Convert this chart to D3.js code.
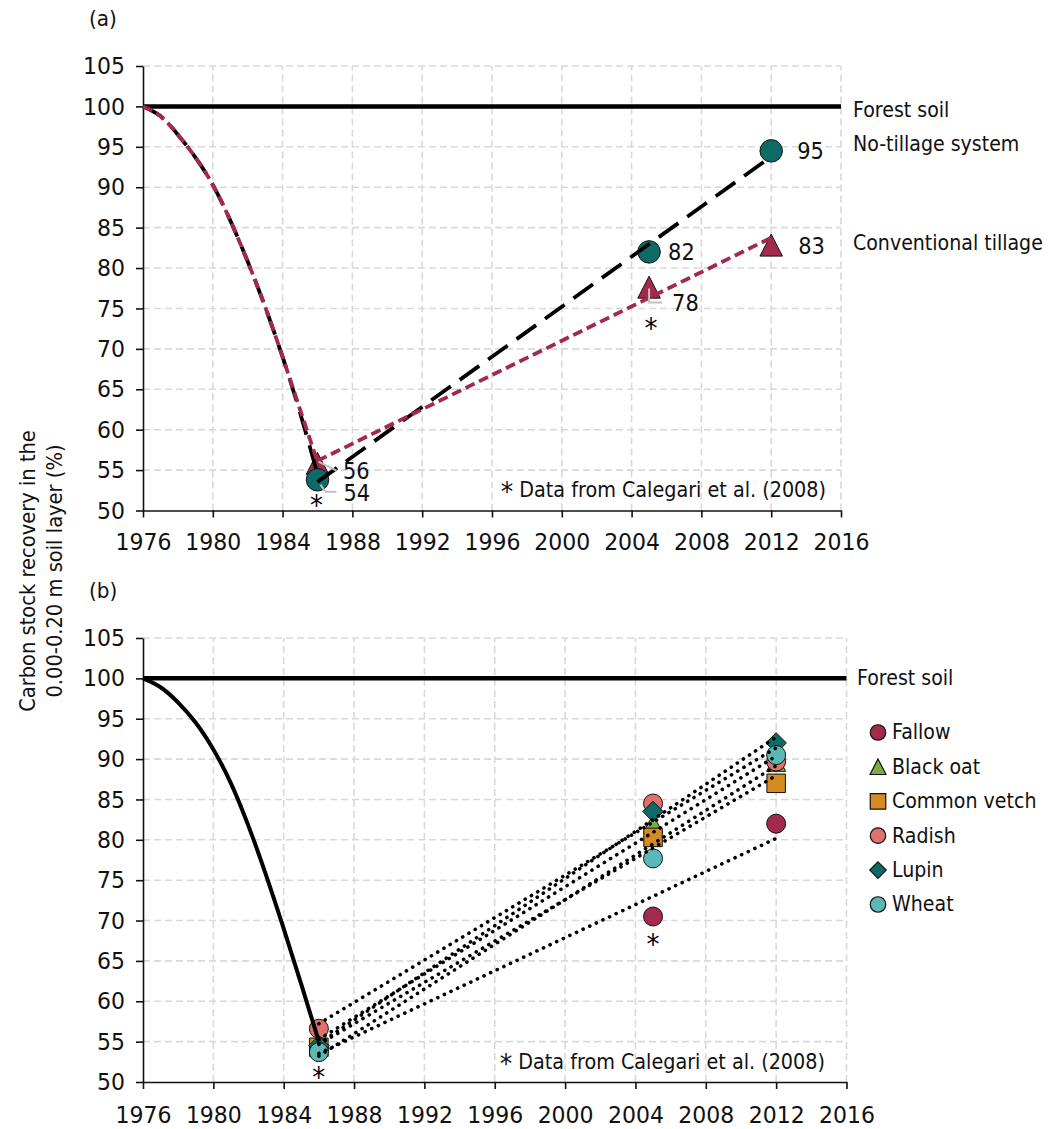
<!DOCTYPE html>
<html><head><meta charset="utf-8">
<script src="https://cdn.jsdelivr.net/npm/d3@7"></script>
<style>
body{margin:0;background:#fff}
svg text{font-family:"DejaVu Sans",sans-serif;fill:#111}
</style>
</head><body>
<svg id="chart" width="1060" height="1129"></svg>
<script>
// ---------------- DATA ----------------
const yearTicks = [1976, 1980, 1984, 1988, 1992, 1996, 2000, 2004, 2008, 2012, 2016];
const valueTicks = [50, 55, 60, 65, 70, 75, 80, 85, 90, 95, 100, 105];
const forestLevel = 100;
const sampleYears = [1986, 2005, 2012];

// panel (a)
const noTillageValues = [53.8, 82.0, 94.5];
const noTillageLabels = ["54", "82", "95"];
const convTillageValues = [55.8, 77.6, 82.8];
const convTillageLabels = ["56", "78", "83"];
const lossYears = [1976, 1977, 1978, 1979, 1980, 1981, 1982, 1983, 1984, 1985, 1986];
const noTillageLoss = [100, 98.8, 96.5, 93.7, 90.3, 85.9, 80.8, 75.2, 69.0, 62.1, 54.5];
const convTillageLoss = [100, 98.8, 96.5, 93.7, 90.3, 85.9, 80.8, 75.2, 69.0, 62.5, 56.0];

// panel (b)
const treatments = ["Fallow", "Black oat", "Common vetch", "Radish", "Lupin", "Wheat"];
const fallowValues = [54.2, 70.5, 82.0];
const blackOatValues = [55.0, 82.0, 89.6];
const commonVetchValues = [54.3, 80.3, 87.0];
const radishValues = [56.6, 84.5, 89.7];
const lupinValues = [54.5, 83.5, 92.0];
const wheatValues = [53.7, 77.7, 90.5];
const forestLossB = [100, 98.9, 97.0, 94.5, 91.2, 87.0, 81.7, 75.6, 69.0, 62.1, 55.0];
const sourceNote = "Data from Calegari et al. (2008)";

// ---------------- STYLE ----------------
const C = {teal:"#0e6a66", crimson:"#a32a4c", green:"#7aad3f", orange:"#d88a22", salmon:"#e0706b", aqua:"#5bb9b5"};
const treatmentStyle = {
  "Fallow": {shape:"circle", color:C.crimson},
  "Black oat": {shape:"triangle", color:C.green},
  "Common vetch": {shape:"square", color:C.orange},
  "Radish": {shape:"circle", color:C.salmon},
  "Lupin": {shape:"diamond", color:C.teal},
  "Wheat": {shape:"circle", color:C.aqua}
};
const treatmentValues = [fallowValues, blackOatValues, commonVetchValues, radishValues, lupinValues, wheatValues];

const svg = d3.select("#chart");

function shapePath(shape, s) {
  const h = s / 2;
  if (shape === "circle") return `M${-h},0A${h},${h} 0 1,0 ${h},0A${h},${h} 0 1,0 ${-h},0Z`;
  if (shape === "square") return `M${-h},${-h}H${h}V${h}H${-h}Z`;
  if (shape === "diamond") return `M0,${-h}L${h},0L0,${h}L${-h},0Z`;
  if (shape === "triangle") return `M0,${-h}L${h},${h*0.95}L${-h},${h*0.95}Z`;
}

function fit(xs, ys) {
  const mx = d3.mean(xs), my = d3.mean(ys);
  const b = d3.sum(xs, (x, i) => (x - mx) * (ys[i] - my)) / d3.sum(xs, x => (x - mx) ** 2);
  return t => my + b * (t - mx);
}

function panel(xRange, yRange, tickPad) {
  const x = d3.scaleLinear().domain([1976, 2016]).range(xRange);
  const y = d3.scaleLinear().domain([50, 105]).range(yRange);
  const g = svg.append("g");
  g.append("g").selectAll("line").data(yearTicks.slice(1)).join("line")
    .attr("x1", d => x(d)).attr("x2", d => x(d)).attr("y1", y(50)).attr("y2", y(105))
    .attr("stroke", "#d9d9d9").attr("stroke-width", 1.6).attr("stroke-dasharray", "7,4");
  g.append("g").selectAll("line").data(valueTicks.slice(1)).join("line")
    .attr("x1", x(1976)).attr("x2", x(2016)).attr("y1", d => y(d)).attr("y2", d => y(d))
    .attr("stroke", "#d9d9d9").attr("stroke-width", 1.6).attr("stroke-dasharray", "7,4");
  const ax = g.append("g").attr("transform", `translate(0,${y(50)})`)
    .call(d3.axisBottom(x).tickValues(yearTicks).tickFormat(d3.format("d")).tickSize(7).tickSizeOuter(0).tickPadding(tickPad));
  const ay = g.append("g").attr("transform", `translate(${x(1976)},0)`)
    .call(d3.axisLeft(y).tickValues(valueTicks).tickSize(7).tickSizeOuter(0).tickPadding(11));
  [ax, ay].forEach(a => {
    a.selectAll("path,line").attr("stroke", "#111").attr("stroke-width", 1.6);
    a.selectAll("text").attr("font-size", 22).attr("font-family", "DejaVu Sans").attr("fill", "#111");
  });
  g.append("line").attr("x1", x(1976)).attr("x2", x(2016)).attr("y1", y(forestLevel)).attr("y2", y(forestLevel))
    .attr("stroke", "#000").attr("stroke-width", 4.5);
  return {x, y, g};
}

function asterisk(g, cx, cy) {
  g.append("text").attr("x", cx).attr("y", cy + 15).attr("text-anchor", "middle")
    .attr("font-size", 26).attr("fill", "#000").style("fill", "#000").text("*");
}

function note(g, xEnd, yBase) {
  const t = g.append("text").attr("x", xEnd).attr("y", yBase).attr("text-anchor", "end").attr("font-size", 19.2);
  t.append("tspan").attr("font-size", 25).attr("dy", 4).text("*");
  t.append("tspan").attr("dy", -4).text(" " + sourceNote);
}

// ================= PANEL A =================
{
  const {x, y, g} = panel([143, 841], [510.5, 66], 15.5);
  sampleYears.forEach((t, i) => {
    g.append("path").attr("d", shapePath("triangle", 22.5)).attr("transform", `translate(${x(t)},${y(convTillageValues[i])})`)
      .attr("fill", C.crimson).attr("stroke", "#111").attr("stroke-width", 1);
  });
  sampleYears.forEach((t, i) => {
    g.append("path").attr("d", shapePath("circle", 22.5)).attr("transform", `translate(${x(t)},${y(noTillageValues[i])})`)
      .attr("fill", C.teal).attr("stroke", "#111").attr("stroke-width", 1);
  });
  const curve = d3.line().x(d => x(d[0])).y(d => y(d[1])).curve(d3.curveNatural);
  g.append("path").attr("d", curve(lossYears.map((t, i) => [t, noTillageLoss[i]])))
    .attr("fill", "none").attr("stroke", "#000").attr("stroke-width", 3.8).attr("stroke-dasharray", "24,11");
  g.append("path").attr("d", curve(lossYears.map((t, i) => [t, convTillageLoss[i]])))
    .attr("fill", "none").attr("stroke", C.crimson).attr("stroke-width", 3.8).attr("stroke-dasharray", "10,5");
  const fNT = fit(sampleYears, noTillageValues), fCT = fit(sampleYears, convTillageValues);
  const span = [1986, 2012];
  const ln = d3.line().x(d => x(d[0])).y(d => y(d[1]));
  g.append("path").attr("d", ln(span.map(t => [t, fNT(t)])))
    .attr("fill", "none").attr("stroke", "#000").attr("stroke-width", 3.8).attr("stroke-dasharray", "24,11");
  g.append("path").attr("d", ln(span.map(t => [t, fCT(t)])))
    .attr("fill", "none").attr("stroke", C.crimson).attr("stroke-width", 3.8).attr("stroke-dasharray", "10,5");

  const lead = (pts) => g.append("path").attr("d", d3.line()(pts)).attr("fill", "none").attr("stroke", "#c0c0c0").attr("stroke-width", 2);
  const px = i => x(sampleYears[i]);
  const nty = i => y(noTillageValues[i]), cty = i => y(convTillageValues[i]);
  lead([[px(0) + 1, cty(0) - 2], [px(0) + 19, cty(0) + 7]]);
  lead([[px(0) + 3, nty(0) + 5], [px(0) + 8, nty(0) + 12], [px(0) + 19, nty(0) + 12]]);
  lead([[px(1), cty(1) + 1], [px(1), cty(1) + 15], [px(1) + 13, cty(1) + 15]]);
  const lab = (tx, ty, s) => g.append("text").attr("x", tx).attr("y", ty).attr("font-size", 21).text(s);
  lab(px(0) + 25.5, cty(0) + 15, convTillageLabels[0]);
  lab(px(0) + 26, nty(0) + 21, noTillageLabels[0]);
  lab(px(1) + 19, nty(1) + 8, noTillageLabels[1]);
  lab(px(2) + 26, nty(2) + 8, noTillageLabels[2]);
  lab(px(1) + 23, cty(1) + 24, convTillageLabels[1]);
  lab(px(2) + 27, cty(2) + 9, convTillageLabels[2]);
  asterisk(g, px(0) - 1, nty(0) + 20);
  asterisk(g, px(1) + 2, cty(1) + 36);

  note(g, 826, 497);
  g.append("text").attr("x", 853).attr("y", 117).attr("font-size", 19).text("Forest soil");
  g.append("text").attr("x", 853).attr("y", 151).attr("font-size", 19).text("No-tillage system");
  g.append("text").attr("x", 853).attr("y", 250).attr("font-size", 19).text("Conventional tillage");
  g.append("text").attr("x", 89).attr("y", 26).attr("font-size", 20).text("(a)");
}

// ================= PANEL B =================
{
  const {x, y, g} = panel([143, 846.5], [1082, 638], 17);
  const sizes = {circle:19, square:18.5, diamond:20.5, triangle:19};
  treatments.forEach((name, k) => {
    const st = treatmentStyle[name];
    sampleYears.forEach((t, i) => {
      g.append("path").attr("d", shapePath(st.shape, sizes[st.shape]))
        .attr("transform", `translate(${x(t)},${y(treatmentValues[k][i])})`)
        .attr("fill", st.color).attr("stroke", "#111").attr("stroke-width", 1);
    });
  });
  const curve = d3.line().x(d => x(d[0])).y(d => y(d[1])).curve(d3.curveNatural);
  g.append("path").attr("d", curve(lossYears.map((t, i) => [t, forestLossB[i]])))
    .attr("fill", "none").attr("stroke", "#000").attr("stroke-width", 4);
  const ln = d3.line().x(d => x(d[0])).y(d => y(d[1]));
  treatments.forEach((name, k) => {
    const f = fit(sampleYears, treatmentValues[k]);
    g.append("path").attr("d", ln([1986, 2012].map(t => [t, f(t)])))
      .attr("fill", "none").attr("stroke", "#000").attr("stroke-width", 3.6)
      .attr("stroke-dasharray", "0.1,7.2").attr("stroke-linecap", "round");
  });
  asterisk(g, x(1986), y(d3.min(treatmentValues, v => v[0])) + 20);
  asterisk(g, x(2005), y(fallowValues[1]) + 22.5);

  note(g, 825, 1069);
  g.append("text").attr("x", 857).attr("y", 685).attr("font-size", 19).text("Forest soil");
  g.append("text").attr("x", 89).attr("y", 598).attr("font-size", 20).text("(b)");

  const lsz = {circle:15.5, square:15.5, diamond:16.5, triangle:16};
  treatments.forEach((name, k) => {
    const st = treatmentStyle[name];
    const cy = 732.5 + k * 34.4;
    g.append("path").attr("d", shapePath(st.shape, lsz[st.shape])).attr("transform", `translate(878,${cy})`)
      .attr("fill", st.color).attr("stroke", "#111").attr("stroke-width", 1.2);
    g.append("text").attr("x", 892).attr("y", cy + 7).attr("font-size", 19).text(name);
  });
}

// y-axis title
[["Carbon stock recovery in the", 35], ["0.00-0.20 m soil layer (%)", 62]].forEach(([s, bx]) => {
  svg.append("text").attr("transform", `translate(${bx},571) rotate(-90)`).attr("text-anchor", "middle")
    .attr("font-size", 19.5).text(s);
});

// slight vertical stretch of glyphs, as in the reference typeface
const K = 1.08;
svg.selectAll("text").each(function () {
  const el = d3.select(this);
  const tx = +el.attr("x") || 0, ty = +el.attr("y") || 0;
  const prev = el.attr("transform") || "";
  el.attr("transform", `${prev} translate(${tx},${ty}) scale(1,${K}) translate(${-tx},${-ty})`);
});
</script>
</body></html>
